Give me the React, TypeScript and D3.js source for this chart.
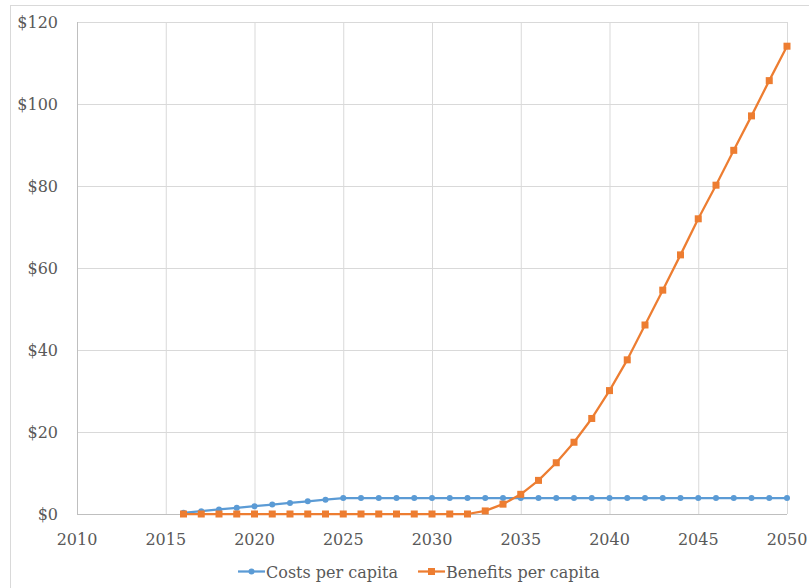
import React from "react";
import * as d3 from "d3";

const years: number[] = d3.range(2016, 2051);
const costs: number[] = [
  0.3, 0.7, 1.1, 1.5, 1.9, 2.3, 2.7, 3.1, 3.5, 3.9,
  3.9, 3.9, 3.9, 3.9, 3.9, 3.9, 3.9, 3.9, 3.9, 3.9,
  3.9, 3.9, 3.9, 3.9, 3.9, 3.9, 3.9, 3.9, 3.9, 3.9,
  3.9, 3.9, 3.9, 3.9, 3.9,
];
const benefits: number[] = [
  0, 0, 0, 0, 0, 0, 0, 0, 0, 0,
  0, 0, 0, 0, 0, 0, 0, 0.75, 2.4, 4.8,
  8.2, 12.5, 17.5, 23.3, 30.1, 37.6, 46.1, 54.6, 63.2, 72.0,
  80.2, 88.7, 97.1, 105.7, 114.1,
];
const xTicks: number[] = [2010, 2015, 2020, 2025, 2030, 2035, 2040, 2045, 2050];
const yTicks: number[] = [0, 20, 40, 60, 80, 100, 120];
const seriesNames: string[] = ["Costs per capita", "Benefits per capita"];

const W = 809;
const H = 588;
const BLUE = "#5b9bd5";
const ORANGE = "#ed7d31";
const TEXT = "#595959";
const FONT = "'DejaVu Serif', serif";
const FS = 16;

export default function App() {
  const x = d3.scaleLinear().domain([2010, 2050]).range([77, 787]);
  const y = d3.scaleLinear().domain([0, 120]).range([514, 22]);
  const line = d3
    .line<[number, number]>()
    .x((d) => x(d[0]))
    .y((d) => y(d[1]));
  const costPts: [number, number][] = years.map((yr, i) => [yr, costs[i]]);
  const benPts: [number, number][] = years.map((yr, i) => [yr, benefits[i]]);

  return (
    <svg
      width={W}
      height={H}
      style={{ position: "absolute", left: 0, top: 0, background: "#fff" }}
      fontFamily={FONT}
    >
      <rect x={10.5} y={5.5} width={W + 20} height={H + 20} fill="#fff" stroke="#d9d9d9" />
      {/* gridlines */}
      {yTicks.map((t) => (
        <line key={"gy" + t} x1={x(2010)} x2={x(2050)} y1={y(t) + 0.5} y2={y(t) + 0.5} stroke="#d9d9d9" strokeWidth={1} />
      ))}
      {xTicks.map((t) => (
        <line key={"gx" + t} x1={x(t) + 0.5} x2={x(t) + 0.5} y1={y(120)} y2={y(0)} stroke="#d9d9d9" strokeWidth={1} />
      ))}
      {/* axes */}
      <line x1={x(2010) + 0.5} x2={x(2010) + 0.5} y1={y(120)} y2={y(0) + 0.5} stroke="#bfbfbf" />
      <line x1={x(2010)} x2={x(2050)} y1={y(0) + 0.5} y2={y(0) + 0.5} stroke="#bfbfbf" />
      {/* y tick labels */}
      {yTicks.map((t) => (
        <text key={"ty" + t} x={58} y={y(t) + 6} textAnchor="end" fontSize={FS} fill={TEXT}>
          {"$" + t}
        </text>
      ))}
      {/* x tick labels */}
      {xTicks.map((t) => (
        <text key={"tx" + t} x={x(t)} y={545} textAnchor="middle" fontSize={FS} fill={TEXT}>
          {t}
        </text>
      ))}
      {/* series */}
      <path d={line(costPts) || ""} fill="none" stroke={BLUE} strokeWidth={2.25} strokeLinejoin="round" />
      {costPts.map((p, i) => (
        <circle key={"c" + i} cx={x(p[0])} cy={y(p[1])} r={3} fill={BLUE} />
      ))}
      <path d={line(benPts) || ""} fill="none" stroke={ORANGE} strokeWidth={2.25} strokeLinejoin="round" />
      {benPts.map((p, i) => (
        <rect key={"b" + i} x={x(p[0]) - 3.5} y={y(p[1]) - 3.5} width={7} height={7} fill={ORANGE} />
      ))}
      {/* legend */}
      <g>
        <line x1={238} x2={265} y1={571.5} y2={571.5} stroke={BLUE} strokeWidth={2.25} />
        <circle cx={251.5} cy={571.5} r={3} fill={BLUE} />
        <text x={266} y={578} fontSize={FS} fill={TEXT}>{seriesNames[0]}</text>
        <line x1={418} x2={445} y1={571.5} y2={571.5} stroke={ORANGE} strokeWidth={2.25} />
        <rect x={428} y={568} width={7} height={7} fill={ORANGE} />
        <text x={446} y={578} fontSize={FS} fill={TEXT}>{seriesNames[1]}</text>
      </g>
    </svg>
  );
}
